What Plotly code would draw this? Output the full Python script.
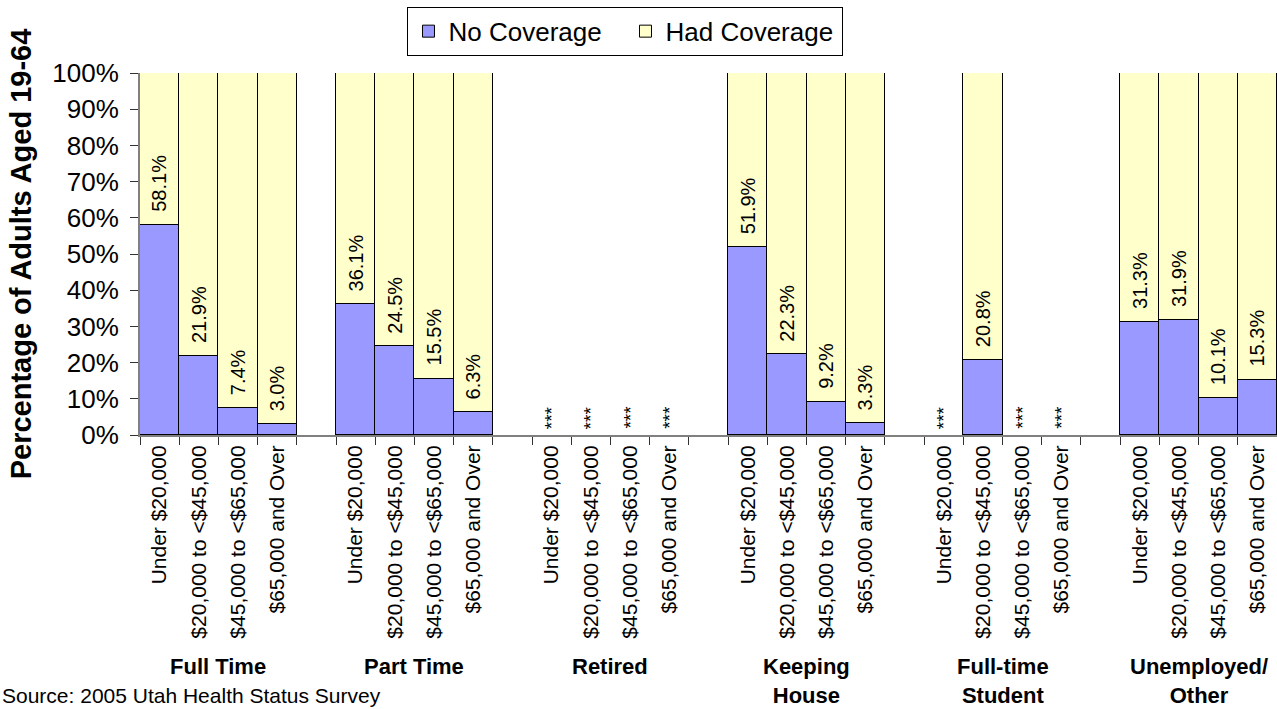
import plotly.graph_objects as go

groups = ["Full Time", "Part Time", "Retired", "Keeping<br>House", "Full-time<br>Student", "Unemployed/<br>Other"]
incomes = ["Under $20,000", "$20,000 to <$45,000", "$45,000 to <$65,000", "$65,000 and Over"]
full_time = [58.1, 21.9, 7.4, 3.0]
part_time = [36.1, 24.5, 15.5, 6.3]
retired = [None, None, None, None]
keeping_house = [51.9, 22.3, 9.2, 3.3]
student = [None, 20.8, None, None]
unemployed = [31.3, 31.9, 10.1, 15.3]
no_coverage = [full_time, part_time, retired, keeping_house, student, unemployed]
missing_text = "***"

BLUE = "#9999FF"
YELLOW = "#FFFFCC"
FONT = "Liberation Sans, Arial, sans-serif"

n_inc = len(incomes)
slot = n_inc + 1  # one empty slot between groups

xs, ys_no, ys_had, labels = [], [], [], []
for gi, vals in enumerate(no_coverage):
    for ii, v in enumerate(vals):
        xs.append(gi * slot + ii)
        ys_no.append(v)
        ys_had.append(None if v is None else round(100 - v, 1))
        labels.append(incomes[ii])

n_slots = len(groups) * slot - 1
boundaries = [i - 0.5 for i in range(n_slots + 1)]

fig = go.Figure()
fig.add_trace(go.Bar(x=xs, y=ys_no, name="No Coverage",
                     marker=dict(color=BLUE, line=dict(color="black", width=1))))
fig.add_trace(go.Bar(x=xs, y=ys_had, name="Had Coverage",
                     marker=dict(color=YELLOW, line=dict(color="black", width=1))))

annotations = []
for x, v in zip(xs, ys_no):
    if v is None:
        annotations.append(dict(x=x, y=0, text=missing_text, textangle=-90, showarrow=False,
                                xanchor="center", yanchor="bottom", yshift=4,
                                font=dict(family=FONT, size=19, color="black")))
    else:
        annotations.append(dict(x=x, y=v, text=f"{v:.1f}%", textangle=-90, showarrow=False,
                                xanchor="center", yanchor="bottom", yshift=11,
                                font=dict(family=FONT, size=20, color="black")))

for gi, g in enumerate(groups):
    annotations.append(dict(x=gi * slot + (n_inc - 1) / 2, xref="x", y=-0.6, yref="paper",
                            text=f"<b>{g}</b>", showarrow=False, xanchor="center", yanchor="top",
                            font=dict(family=FONT, size=22, color="black")))

annotations.append(dict(x=-140 / 1137, xref="paper", y=-0.72, yref="paper",
                        text="Source: 2005 Utah Health Status Survey", showarrow=False,
                        xanchor="left", yanchor="middle",
                        font=dict(family=FONT, size=21, color="black")))

fig.update_layout(
    barmode="stack", bargap=0,
    width=1277, height=709,
    margin=dict(l=140, r=0, t=73, b=274),
    plot_bgcolor="white", paper_bgcolor="white",
    font=dict(family=FONT, color="black"),
    showlegend=True,
    legend=dict(orientation="h", x=0.427, xanchor="center", y=1.183, yanchor="top",
                bordercolor="black", borderwidth=1, bgcolor="white",
                entrywidth=172, entrywidthmode="pixels",
                font=dict(family=FONT, size=26, color="black"), traceorder="normal"),
    annotations=annotations,
)
fig.update_xaxes(range=[-0.5, n_slots - 0.5], tickmode="array", tickvals=xs, ticktext=labels,
                 tickangle=-90, ticks="", showline=True, linecolor="#808080", linewidth=2,
                 tickfont=dict(family=FONT, size=21, color="black"), showgrid=False, zeroline=False,
                 minor=dict(tickmode="array", tickvals=boundaries, ticks="outside", ticklen=8,
                            tickcolor="#333333", tickwidth=1, showgrid=False))
fig.update_yaxes(range=[0, 100], dtick=10, ticksuffix="%", ticks="outside", ticklen=8,
                 tickcolor="#333333", showline=True, linecolor="#808080", linewidth=2,
                 showgrid=False, zeroline=False, ticklabelstandoff=6,
                 tickfont=dict(family=FONT, size=26, color="black"),
                 title=dict(text="<b>Percentage of Adults Aged 19-64</b>", standoff=12,
                            font=dict(family=FONT, size=29, color="black")))

fig.write_html("out.html", config={"displayModeBar": False},
               post_script="document.body.style.margin='0';")
